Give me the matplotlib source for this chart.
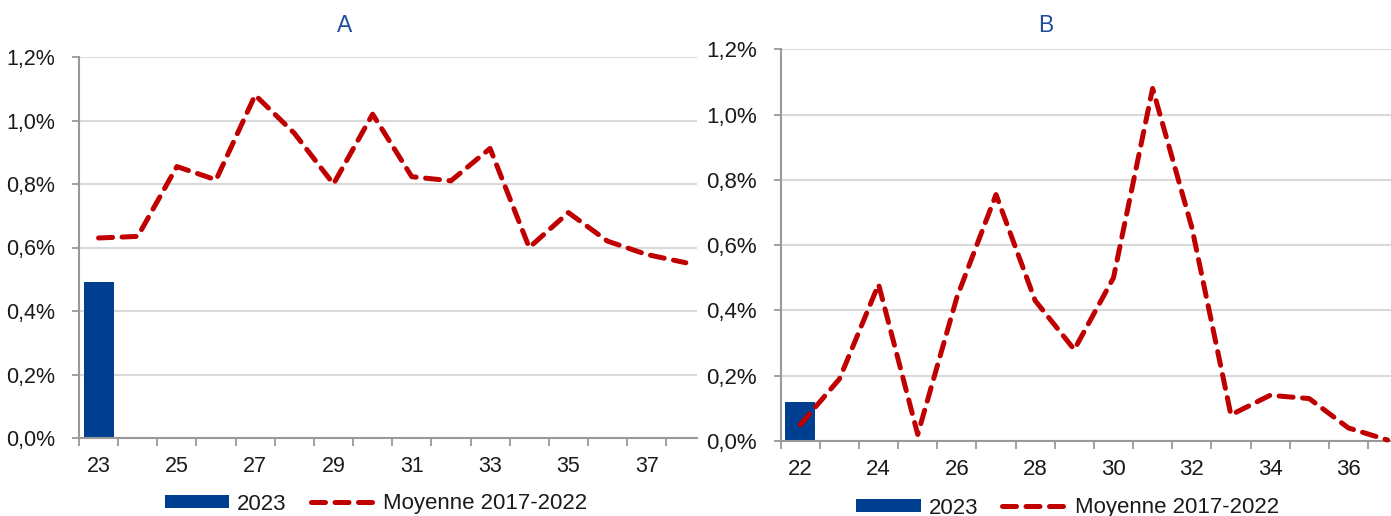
import matplotlib
matplotlib.use("Agg")
import matplotlib.pyplot as plt
from matplotlib.patches import Patch
from matplotlib.lines import Line2D
from matplotlib.ticker import FixedLocator, FuncFormatter

plt.rcParams['font.family'] = ['Liberation Sans', 'DejaVu Sans']

# ---- data ----
weeks_a = list(range(23, 39))
avg_a = [0.63, 0.635, 0.855, 0.813, 1.08, 0.96, 0.80, 1.02, 0.823, 0.81, 0.912,
         0.60, 0.71, 0.62, 0.578, 0.552]
bar_a_weeks = [23]
bar_a_vals = [0.49]

weeks_b = list(range(22, 38))
avg_b = [0.05, 0.19, 0.48, 0.02, 0.44, 0.755, 0.43, 0.28, 0.50, 1.08, 0.655,
         0.08, 0.14, 0.13, 0.04, 0.003]
bar_b_weeks = [22]
bar_b_vals = [0.12]

titles = ["A", "B"]
legend_labels = ["2023", "Moyenne 2017-2022"]
yticks = [0.0, 0.2, 0.4, 0.6, 0.8, 1.0, 1.2]

BLUE = "#003f8f"
RED = "#c00000"
TITLE_BLUE = "#1f4e9c"
GRID = "#d9d9d9"
SPINE = "#999999"
TXT = "#1a1a1a"
LW = 3.6
DASH = (2.8, 1.9)

W, H = 1391, 516
fig = plt.figure(figsize=(W / 100, H / 100), dpi=100)

def fx(px):
    return px / W

def fy(py):
    return (H - py) / H

def make_panel(left, right, top, bottom, weeks, avg, bw, bv, xlim_left, tick_start, fs):
    ax = fig.add_axes([fx(left), fy(bottom), fx(right) - fx(left), fy(top) - fy(bottom)])
    catw = 39.15
    xlim_right = xlim_left + (right - left) / catw
    ax.set_xlim(xlim_left, xlim_right)
    ax.set_ylim(0, 1.2)
    ax.bar(bw, bv, width=0.77, color=BLUE, zorder=2)
    ax.plot(weeks, avg, color=RED, lw=LW, dashes=DASH,
            dash_capstyle='round', solid_capstyle='round', zorder=3, clip_on=False)
    ax.set_yticks(yticks)
    ax.yaxis.set_major_formatter(FuncFormatter(lambda v, p: f"{v:.1f}%".replace('.', ',')))
    ax.grid(axis='y', color=GRID, lw=1.5, zorder=0)
    ax.set_axisbelow(True)
    for s in ['top', 'right']:
        ax.spines[s].set_visible(False)
    for s in ['left', 'bottom']:
        ax.spines[s].set_color(SPINE)
        ax.spines[s].set_linewidth(1.5)
    labeled = [w for w in weeks if (w - tick_start) % 2 == 0]
    ax.set_xticks(labeled)
    ax.set_xticklabels([str(w) for w in labeled])
    bounds = [w - 0.5 for w in weeks] + [weeks[-1] + 0.5]
    ax.xaxis.set_minor_locator(FixedLocator(bounds))
    ax.tick_params(axis='x', which='major', length=0, pad=13, labelsize=fs, labelcolor=TXT)
    ax.tick_params(axis='x', which='minor', length=6, width=1.3, color=SPINE, direction='out')
    ax.tick_params(axis='y', which='major', length=5, width=1.3, color=SPINE, pad=12,
                   labelsize=fs, labelcolor=TXT)
    return ax

axA = make_panel(79, 697, 57, 438, weeks_a, avg_a, bar_a_weeks, bar_a_vals, 22.5, 23, 15.5)
axB = make_panel(780.7, 1391, 49.3, 441, weeks_b, avg_b, bar_b_weeks, bar_b_vals, 21.5, 22, 16)

fig.text(fx(345), fy(25), titles[0], ha='center', va='center', fontsize=16.5, color=TITLE_BLUE)
fig.text(fx(1046), fy(25), titles[1], ha='center', va='center', fontsize=16.5, color=TITLE_BLUE)

def add_legend(cx, cy):
    handles = [Patch(facecolor=BLUE, edgecolor='none'),
               Line2D([0], [0], color=RED, lw=LW, dashes=DASH, dash_capstyle='round')]
    leg = fig.legend(handles, legend_labels, loc='center', bbox_to_anchor=(fx(cx), fy(cy)),
                     ncol=2, frameon=False, fontsize=16, handlelength=2.9, handleheight=0.55,
                     handletextpad=0.35, columnspacing=1.1, borderaxespad=0, borderpad=0,
                     labelcolor=TXT)
    return leg

add_legend(376, 504)
add_legend(1067.5, 508)

fig.savefig("out.png", dpi=100)
